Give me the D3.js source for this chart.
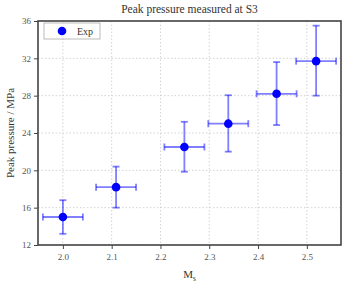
<!DOCTYPE html>
<html>
<head>
<meta charset="utf-8">
<script src="https://cdn.jsdelivr.net/npm/d3@7"></script>
<style>
  body { margin: 0; background: #fff; }
  text { font-family: "Liberation Serif", "DejaVu Serif", serif; }
</style>
</head>
<body>
<div id="chart"></div>
<script>
// Measured values at S3
const mach = [2.0, 2.109, 2.249, 2.339, 2.438, 2.519];
const pressure = [15.0, 18.2, 22.5, 25.0, 28.2, 31.7];
const yLow = [13.2, 16.0, 19.85, 22.0, 24.85, 28.0];
const yHigh = [16.8, 20.4, 25.2, 28.05, 31.6, 35.5];
const xErr = [0.041, 0.041, 0.041, 0.041, 0.041, 0.041];
const xTicks = [2.0, 2.1, 2.2, 2.3, 2.4, 2.5];
const yTicks = [12, 16, 20, 24, 28, 32, 36];

const width = 342, height = 288;
const margin = { top: 21, right: 1, bottom: 43, left: 38 };

const svg = d3.select("#chart").append("svg")
    .attr("width", width)
    .attr("height", height);

const x = d3.scaleLinear().domain([1.949, 2.57]).range([margin.left, width - margin.right]);
const y = d3.scaleLinear().domain([12, 36]).range([height - margin.bottom, margin.top]);

// grid
svg.append("g").selectAll("line").data(xTicks).join("line")
    .attr("x1", d => x(d)).attr("x2", d => x(d))
    .attr("y1", margin.top).attr("y2", height - margin.bottom)
    .attr("stroke", "#c8c8c8").attr("stroke-width", 0.8).attr("stroke-dasharray", "1.5,2");
svg.append("g").selectAll("line").data(yTicks).join("line")
    .attr("y1", d => y(d)).attr("y2", d => y(d))
    .attr("x1", margin.left).attr("x2", width - margin.right)
    .attr("stroke", "#c8c8c8").attr("stroke-width", 0.8).attr("stroke-dasharray", "1.5,2");

// axes
const xAxis = svg.append("g")
    .attr("transform", `translate(0,${height - margin.bottom})`)
    .call(d3.axisBottom(x).tickValues(xTicks).tickFormat(d3.format(".1f")).tickSize(4).tickPadding(5));
const yAxis = svg.append("g")
    .attr("transform", `translate(${margin.left},0)`)
    .call(d3.axisLeft(y).tickValues(yTicks).tickSize(4).tickPadding(3));
[xAxis, yAxis].forEach(a => {
    a.select(".domain").remove();
    a.selectAll(".tick line").attr("stroke", "#444").attr("stroke-width", 1);
    a.selectAll(".tick text").attr("fill", "#555").style("font-size", "9px")
        .style("font-family", "'Liberation Serif', serif");
});

// frame
svg.append("rect")
    .attr("x", margin.left).attr("y", margin.top)
    .attr("width", width - margin.left - margin.right)
    .attr("height", height - margin.top - margin.bottom)
    .attr("fill", "none").attr("stroke", "#444").attr("stroke-width", 1.6);

// error bars
const pts = mach.map((m, i) => ({ m, p: pressure[i], lo: yLow[i], hi: yHigh[i], xe: xErr[i] }));
const eb = svg.append("g").attr("stroke", "#0000ff").attr("stroke-opacity", 0.5).attr("stroke-width", 1.8);
pts.forEach(d => {
    eb.append("line").attr("x1", x(d.m)).attr("x2", x(d.m)).attr("y1", y(d.lo)).attr("y2", y(d.hi));
    eb.append("line").attr("x1", x(d.m - d.xe)).attr("x2", x(d.m + d.xe)).attr("y1", y(d.p)).attr("y2", y(d.p));
    [d.lo, d.hi].forEach(v => eb.append("line")
        .attr("x1", x(d.m) - 3.5).attr("x2", x(d.m) + 3.5).attr("y1", y(v)).attr("y2", y(v)));
    [d.m - d.xe, d.m + d.xe].forEach(v => eb.append("line")
        .attr("x1", x(v)).attr("x2", x(v)).attr("y1", y(d.p) - 3.5).attr("y2", y(d.p) + 3.5));
});

svg.append("g").selectAll("circle").data(pts).join("circle")
    .attr("cx", d => x(d.m)).attr("cy", d => y(d.p)).attr("r", 4.3)
    .attr("fill", "#0000ff");

// legend
svg.append("rect").attr("x", 44).attr("y", 23).attr("width", 56).attr("height", 16)
    .attr("fill", "#fff").attr("stroke", "#aaa").attr("stroke-width", 0.8);
svg.append("circle").attr("cx", 62).attr("cy", 31).attr("r", 4.3).attr("fill", "#0000ff");
svg.append("text").attr("x", 77).attr("y", 34.5).style("font-size", "10px").attr("fill", "#333").text("Exp");

// titles
svg.append("text").attr("x", (margin.left + width - margin.right) / 2).attr("y", 13)
    .attr("text-anchor", "middle").style("font-size", "11.5px").attr("fill", "#333")
    .text("Peak pressure measured at S3");

svg.append("text")
    .attr("transform", `translate(14,${(margin.top + height - margin.bottom) / 2}) rotate(-90)`)
    .attr("text-anchor", "middle").style("font-size", "11px").attr("fill", "#333")
    .text("Peak pressure / MPa");

const xl = svg.append("text").attr("x", (margin.left + width - margin.right) / 2).attr("y", 278)
    .attr("text-anchor", "middle").style("font-size", "11px").attr("fill", "#333");
xl.append("tspan").text("M");
xl.append("tspan").attr("dy", 2.5).style("font-size", "7.5px").text("s");
</script>
</body>
</html>
